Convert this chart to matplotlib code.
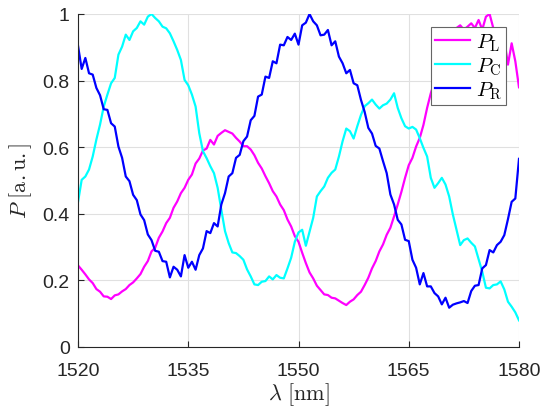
import numpy as np
import matplotlib.pyplot as plt

plt.rcParams['mathtext.fontset'] = 'cm'

# wavelength grid (nm), 0.5 nm step
wl = np.arange(1520, 1580.25, 0.5)

P_L = [0.245, 0.232, 0.218, 0.203, 0.192, 0.174, 0.166, 0.152, 0.151, 0.144,
       0.155, 0.158, 0.167, 0.174, 0.186, 0.194, 0.206, 0.219, 0.241, 0.258,
       0.287, 0.298, 0.328, 0.347, 0.372, 0.388, 0.418, 0.437, 0.462, 0.478,
       0.502, 0.518, 0.551, 0.566, 0.590, 0.596, 0.622, 0.608, 0.634, 0.643,
       0.651, 0.646, 0.641, 0.628, 0.617, 0.603, 0.603, 0.593, 0.576, 0.553,
       0.536, 0.513, 0.492, 0.468, 0.452, 0.428, 0.411, 0.383, 0.362, 0.333,
       0.316, 0.283, 0.252, 0.224, 0.206, 0.184, 0.171, 0.158, 0.156, 0.148,
       0.146, 0.139, 0.132, 0.126, 0.136, 0.143, 0.156, 0.166, 0.186, 0.208,
       0.236, 0.258, 0.287, 0.308, 0.337, 0.358, 0.392, 0.428, 0.466, 0.508,
       0.546, 0.568, 0.602, 0.628, 0.667, 0.718, 0.762, 0.798, 0.832, 0.858,
       0.892, 0.913, 0.942, 0.958, 0.966, 0.953, 0.962, 0.972, 0.958, 0.982,
       0.953, 0.992, 1.0, 0.958, 0.938, 0.878, 0.922, 0.848, 0.912, 0.858,
       0.78]

P_C = [0.435, 0.502, 0.512, 0.533, 0.572, 0.623, 0.668, 0.722, 0.758, 0.792,
       0.808, 0.878, 0.902, 0.938, 0.922, 0.948, 0.958, 0.978, 0.968, 0.992,
       1.0, 0.988, 0.978, 0.962, 0.957, 0.942, 0.918, 0.892, 0.862, 0.802,
       0.786, 0.758, 0.722, 0.642, 0.588, 0.567, 0.543, 0.522, 0.478, 0.412,
       0.348, 0.312, 0.284, 0.282, 0.273, 0.262, 0.233, 0.212, 0.188, 0.186,
       0.196, 0.198, 0.212, 0.203, 0.216, 0.208, 0.206, 0.236, 0.268, 0.316,
       0.344, 0.352, 0.304, 0.346, 0.388, 0.452, 0.468, 0.482, 0.508, 0.523,
       0.533, 0.572, 0.618, 0.656, 0.648, 0.626, 0.663, 0.697, 0.723, 0.732,
       0.743, 0.728, 0.716, 0.726, 0.731, 0.743, 0.762, 0.718, 0.687, 0.663,
       0.656, 0.661, 0.653, 0.627, 0.598, 0.572, 0.508, 0.478, 0.492, 0.508,
       0.488, 0.452, 0.398, 0.352, 0.306, 0.321, 0.326, 0.313, 0.302, 0.264,
       0.226, 0.178, 0.176, 0.186, 0.188, 0.197, 0.173, 0.136, 0.121, 0.104,
       0.08]

P_R = [0.905, 0.835, 0.868, 0.822, 0.818, 0.778, 0.756, 0.714, 0.712, 0.672,
       0.662, 0.602, 0.568, 0.512, 0.498, 0.457, 0.441, 0.398, 0.381, 0.338,
       0.321, 0.289, 0.286, 0.258, 0.256, 0.209, 0.241, 0.232, 0.212, 0.276,
       0.238, 0.256, 0.232, 0.276, 0.296, 0.348, 0.342, 0.372, 0.362, 0.428,
       0.462, 0.512, 0.522, 0.568, 0.577, 0.618, 0.632, 0.681, 0.694, 0.752,
       0.758, 0.812, 0.808, 0.858, 0.852, 0.908, 0.906, 0.931, 0.922, 0.941,
       0.908, 0.966, 0.974, 1.0, 0.978, 0.966, 0.936, 0.938, 0.952, 0.906,
       0.918, 0.872, 0.852, 0.822, 0.832, 0.792, 0.786, 0.742, 0.706, 0.658,
       0.641, 0.604, 0.596, 0.558, 0.522, 0.458, 0.428, 0.382, 0.368, 0.322,
       0.318, 0.262, 0.238, 0.188, 0.222, 0.182, 0.182, 0.162, 0.152, 0.128,
       0.148, 0.118, 0.127, 0.131, 0.134, 0.138, 0.132, 0.168, 0.184, 0.186,
       0.236, 0.246, 0.291, 0.284, 0.306, 0.316, 0.336, 0.384, 0.436, 0.446,
       0.565]

xticks = [1520, 1535, 1550, 1565, 1580]
yticks = [0, 0.2, 0.4, 0.6, 0.8, 1]
ytick_labels = ['0', '0.2', '0.4', '0.6', '0.8', '1']

fs = 14
dark = [0.15, 0.15, 0.15]

fig = plt.figure(figsize=(5.47, 4.10), dpi=100)
ax = fig.add_axes([78/547, 62/410, 441/547, 333/410])

ax.plot(wl, P_L, color=[1, 0, 1], linewidth=1.6, label=r'$P_\mathrm{L}$')
ax.plot(wl, P_C, color=[0, 1, 1], linewidth=1.6, label=r'$P_\mathrm{C}$')
ax.plot(wl, P_R, color=[0, 0, 1], linewidth=1.6, label=r'$P_\mathrm{R}$')

ax.set_xlim(1520, 1580)
ax.set_ylim(0, 1)
ax.set_xticks(xticks)
ax.set_xticklabels([str(v) for v in xticks], fontsize=fs, family='Liberation Sans', color=dark)
ax.set_yticks(yticks)
ax.set_yticklabels(ytick_labels, fontsize=fs, family='Liberation Sans', color=dark)
ax.tick_params(direction='in', length=4, width=0.8, color=dark)
ax.tick_params(axis='x', pad=11)
ax.tick_params(axis='y', pad=6)

ax.grid(True, color=[0.88, 0.88, 0.88], linewidth=0.8)
ax.set_axisbelow(True)
ax.spines['top'].set_visible(False)
ax.spines['right'].set_visible(False)
ax.spines['left'].set_color(dark)
ax.spines['bottom'].set_color(dark)

ax.set_xlabel(r'$\lambda\ [\mathrm{nm}]$', fontsize=16, color=dark, labelpad=1)
ax.set_ylabel(r'$P\ [\mathrm{a.u.}]$', fontsize=16, color=dark, labelpad=6)

leg = ax.legend(loc='upper right', bbox_to_anchor=(0.9705, 0.961), borderaxespad=0,
                fontsize=15, handlelength=1.65, handletextpad=0.3, borderpad=0.2,
                labelspacing=0.12, fancybox=False, framealpha=1)
leg.get_frame().set_edgecolor([0.4, 0.4, 0.4])
leg.get_frame().set_linewidth(0.8)

fig.savefig('out.png', dpi=100)
